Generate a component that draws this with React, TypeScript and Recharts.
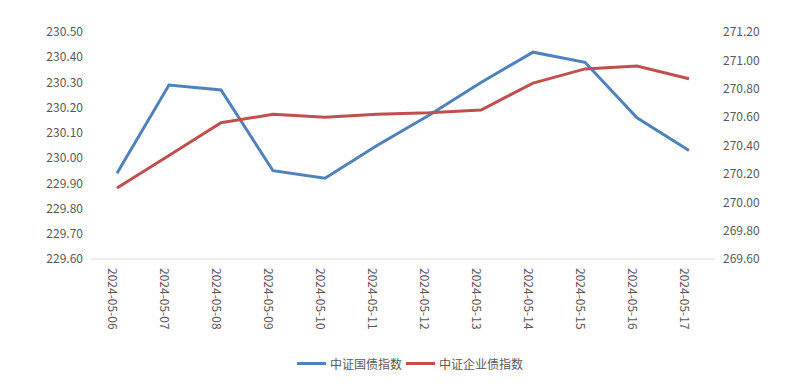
import { LineChart, Line, XAxis, YAxis, Legend } from 'recharts'

const dates = ['2024-05-06', '2024-05-07', '2024-05-08', '2024-05-09', '2024-05-10', '2024-05-11', '2024-05-12', '2024-05-13', '2024-05-14', '2024-05-15', '2024-05-16', '2024-05-17']
const govBond = [229.94, 230.29, 230.27, 229.95, 229.92, 230.05, 230.17, 230.30, 230.42, 230.38, 230.16, 230.03]
const corpBond = [270.10, 270.33, 270.56, 270.62, 270.60, 270.62, 270.63, 270.65, 270.84, 270.94, 270.96, 270.87]
const leftTicks = [229.6, 229.7, 229.8, 229.9, 230.0, 230.1, 230.2, 230.3, 230.4, 230.5]
const rightTicks = [269.6, 269.8, 270.0, 270.2, 270.4, 270.6, 270.8, 271.0, 271.2]

const seriesNames = ['中证国债指数', '中证企业债指数']
const colors = ['#4F81BD', '#C0504D']

const chartData = dates.map((d, i) => ({ date: d, gov: govBond[i], corp: corpBond[i] }))

const FONT = '"Noto Sans CJK SC", "Noto Sans", sans-serif'
const TEXT = '#595959'

function DateTick({ x, y, payload }: any) {
  return (
    <text
      x={0}
      y={0}
      transform={`translate(${x - 4},${y + 1}) rotate(90)`}
      textAnchor="start"
      dominantBaseline="central"
      fontSize={12}
      fontFamily={FONT}
      fill={TEXT}
    >
      {payload.value}
    </text>
  )
}

function LegendContent() {
  return (
    <div style={{ display: 'flex', justifyContent: 'center', alignItems: 'center', fontFamily: FONT, fontSize: 12, color: TEXT, paddingTop: 16, paddingLeft: 8 }}>
      {seriesNames.map((name, i) => (
        <div key={name} style={{ display: 'flex', alignItems: 'center', marginRight: i === 0 ? 4 : 0 }}>
          <div style={{ width: 29, height: 3, background: colors[i], marginRight: 4 }} />
          <span>{name}</span>
        </div>
      ))}
    </div>
  )
}

export default function App() {
  return (
    <div style={{ position: 'absolute', left: 0, top: 0, background: '#fff' }}>
      <LineChart width={812} height={385} data={chartData} margin={{ top: 32, right: 0, bottom: 0, left: 0 }}>
        <XAxis
          dataKey="date"
          height={80}
          interval={0}
          padding={{ left: 26, right: 26 }}
          tick={<DateTick />}
          tickLine={false}
          axisLine={{ stroke: '#D9D9D9' }}
        />
        <YAxis
          yAxisId="left"
          width={91}
          domain={[229.6, 230.5]}
          ticks={leftTicks}
          tickFormatter={(v: number) => v.toFixed(2)}
          axisLine={false}
          tickLine={false}
          tick={{ fontSize: 12, fill: TEXT, fontFamily: FONT }}
        />
        <YAxis
          yAxisId="right"
          orientation="right"
          width={97}
          domain={[269.6, 271.2]}
          ticks={rightTicks}
          tickFormatter={(v: number) => v.toFixed(2)}
          axisLine={false}
          tickLine={false}
          tick={{ fontSize: 12, fill: TEXT, fontFamily: FONT, textAnchor: 'start' }}
        />
        <Legend content={<LegendContent />} wrapperStyle={{ height: 46 }} />
        <Line yAxisId="left" type="linear" dataKey="gov" name={seriesNames[0]} stroke={colors[0]} strokeWidth={3} dot={false} isAnimationActive={false} />
        <Line yAxisId="right" type="linear" dataKey="corp" name={seriesNames[1]} stroke={colors[1]} strokeWidth={3} dot={false} isAnimationActive={false} />
      </LineChart>
    </div>
  )
}
